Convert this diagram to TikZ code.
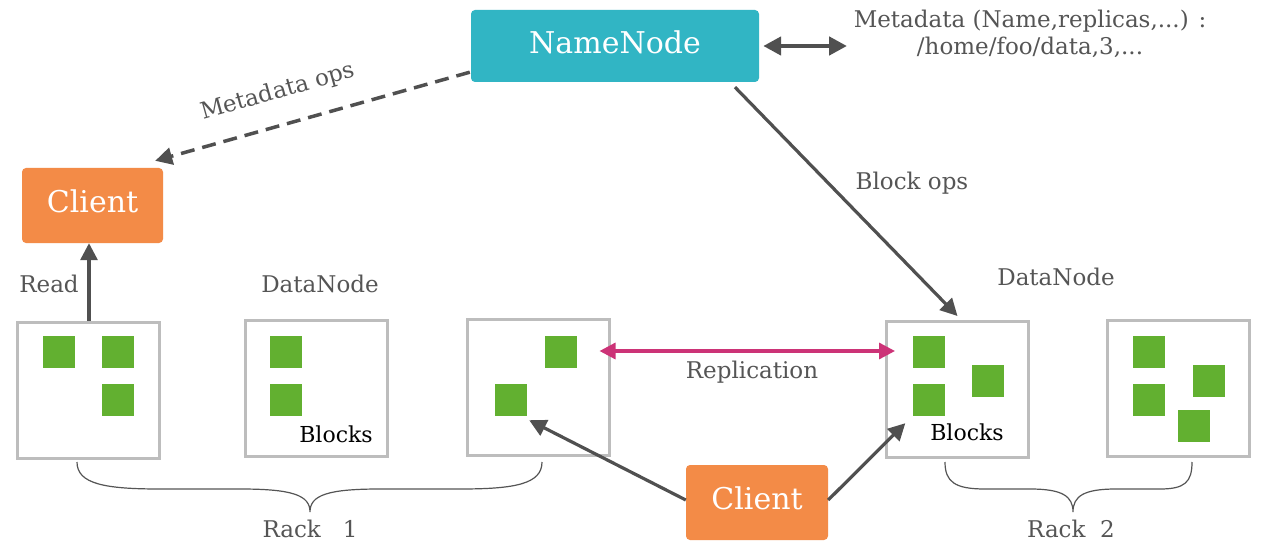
\documentclass[tikz,border=0pt]{standalone}
\usepackage{fontspec}
\setmainfont{DejaVu Serif}
\usetikzlibrary{arrows.meta,calc}
\definecolor{nnteal}{HTML}{31B5C4}
\definecolor{clorange}{HTML}{F38B47}
\definecolor{blkgreen}{HTML}{62B030}
\definecolor{boxgray}{HTML}{BDBDBD}
\definecolor{darkarr}{HTML}{505050}
\definecolor{repmag}{HTML}{CC3377}
\definecolor{txtgray}{HTML}{555555}
\tikzset{
  dnbox/.style={draw=boxgray, line width=3pt, minimum width=142pt, minimum height=136pt, inner sep=0pt},
  blk/.style={fill=blkgreen, minimum size=32pt, inner sep=0pt},
  lbl/.style={text=txtgray, font=\fontsize{23}{27}\selectfont, inner sep=0pt},
  headbox/.style={rounded corners=4pt, inner sep=0pt, text=white, text depth=8pt, font=\fontsize{30}{34}\selectfont},
  arr/.style={draw=darkarr, line width=3.2pt, -{Triangle[length=17pt,width=17pt]}},
  darr/.style={draw=darkarr, line width=4.5pt, {Triangle[length=18pt,width=18pt]}-{Triangle[length=18pt,width=18pt]}},
  rarr/.style={draw=repmag, line width=3.2pt, {Triangle[length=16pt,width=16pt]}-{Triangle[length=16pt,width=16pt]}},
  brace/.style={draw=txtgray, line width=1.2pt}
}
\begin{document}
\begin{tikzpicture}[x=1pt,y=-1pt]
\useasboundingbox (0,0) rectangle (1271,556);
\fill[white] (0,0) rectangle (1271,556);

% head nodes
\node[headbox, fill=nnteal, minimum width=288pt, minimum height=72pt] (nn) at (615,46) {NameNode};
\node[headbox, fill=clorange, minimum width=141pt, minimum height=75pt] (client1) at (92.5,205.5) {Client};
\node[headbox, fill=clorange, minimum width=142pt, minimum height=75pt] (client2) at (757,502.5) {Client};

% metadata text
\node[lbl, align=center] (meta) at (1030,34) {Metadata (Name,replicas,...) :\\/home/foo/data,3,...};
\coordinate (metaL) at (847,46);
\draw[darr] ($(nn.east)+(4,0)$) -- (metaL);

% datanode boxes
\node[dnbox] (b1) at (88,390.5) {};
\node[dnbox] (b2) at (316,388) {};
\node[dnbox] (b3) at (538,387.5) {};
\node[dnbox] (b4) at (957.5,389.5) {};
\node[dnbox] (b5) at (1178,388.5) {};

% blocks
\node[blk] (s11) at (58.5,351.5) {};
\node[blk] (s12) at (117.5,351.5) {};
\node[blk] (s13) at (117.5,400) {};
\node[blk] (s21) at (286,351.5) {};
\node[blk] (s22) at (286,400) {};
\node[blk] (s31) at (561,351.5) {};
\node[blk] (s32) at (511,400) {};
\node[blk] (s41) at (928.5,351.5) {};
\node[blk] (s42) at (928.5,400) {};
\node[blk] (s43) at (988,381) {};
\node[blk] (s51) at (1148.5,351.5) {};
\node[blk] (s52) at (1148.5,400) {};
\node[blk] (s53) at (1209,381) {};
\node[blk] (s54) at (1193.5,425.5) {};

% labels
\node[lbl, text=black, font=\fontsize{22}{26}\selectfont] (blk2) at (336,434) {Blocks};
\node[lbl, text=black, font=\fontsize{22}{26}\selectfont] (blk4) at (967,432) {Blocks};
\node[lbl] (dn1) at (320,284) {DataNode};
\node[lbl] (dn2) at (1056,277) {DataNode};
\node[lbl] (read) at (49,284) {Read};
\node[lbl] (bops) at (912,183) {Block ops};
\node[lbl] (repl) at (752,372) {Replication};
\node[lbl, rotate=15.8] (mops) at (278,92) {Metadata ops};
\node[lbl] (rack1) at (310,529) {Rack\ \ \ 1};
\node[lbl] (rack2) at (1071,529) {Rack\ \ 2};

% connectors
\draw[arr] (b1.north -| 89,0) -- (89,245 |- client1.south);
\draw[arr, line width=3.5pt, dash pattern=on 14pt off 8pt] ($(nn.south west)+(-1,-10)$) -- ($(client1.north east)+(-8,-7)$);
\draw[arr] ($(nn.south)+(120,5)$) -- ($(b4.north)+(0,-4)$);
\draw[rarr] ($(b3.east)+(-11,-36.5)$) -- ($(b4.west)+(10,-38.5)$);
\draw[arr] ($(client2.west)+(0,-2.5)$) -- ($(s32.south east)+(2,4)$);
\draw[arr] ($(client2.east)+(0,-2.5)$) -- ($(s42.south west)+(-7,7)$);

% braces
\draw[brace] (77,462) .. controls (77,484) and (105,489) .. (160,489) -- (240,489)
  .. controls (292,489) and (310,495) .. (310,512)
  .. controls (310,495) and (328,489) .. (380,489) -- (460,489)
  .. controls (515,489) and (542,484) .. (542,462);
\draw[brace] (945,462) .. controls (945,482) and (955,489) .. (985,489) -- (1030,489)
  .. controls (1062,489) and (1073,496) .. (1073,512)
  .. controls (1073,496) and (1084,489) .. (1116,489) -- (1160,489)
  .. controls (1185,489) and (1192,482) .. (1192,462);
\end{tikzpicture}
\end{document}
